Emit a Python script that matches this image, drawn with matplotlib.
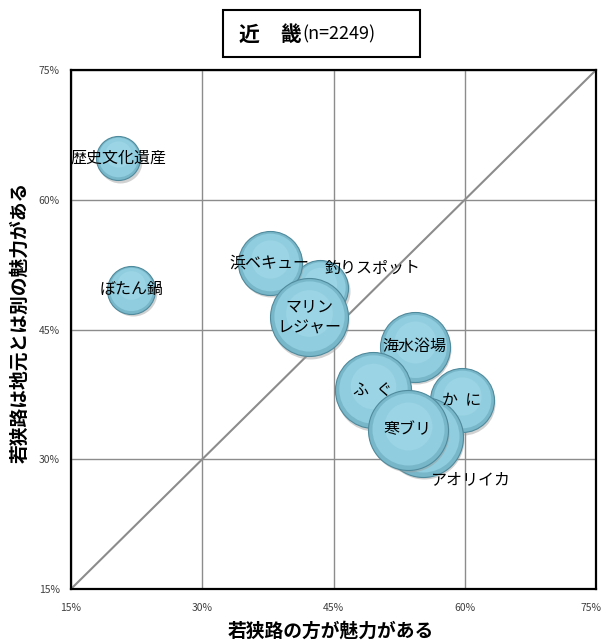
import matplotlib.pyplot as plt
from matplotlib.patches import Rectangle
from matplotlib.transforms import ScaledTranslation

plt.rcParams['font.family'] = ['Noto Sans CJK JP', 'DejaVu Sans']

# data, listed in drawing order
names = ['歴史文化遺産', 'ぼたん鍋', '海水浴場', 'か  に', '釣りスポット', '浜ベキュー',
         'マリン\nレジャー', 'ふ  ぐ', 'アオリイカ', '寒ブリ']
x_vals = [20.4, 21.9, 54.3, 59.7, 43.5, 37.7, 42.2, 49.5, 55.2, 53.5]   # 若狭路の方が魅力がある (%)
y_vals = [64.8, 49.6, 43.0, 36.8, 49.8, 52.7, 46.4, 38.0, 32.6, 33.4]   # 若狭路は地元とは別の魅力がある (%)
sizes = [22, 24, 35, 32, 28, 32, 39, 38, 40, 40]                        # bubble radius (px)
# label offsets (points) where the label is not centred on the bubble
label_off = {'釣りスポット': (38, 14), 'アオリイカ': (34, -31)}

ticks = [15, 30, 45, 60, 75]
tick_labels = ['15%', '30%', '45%', '60%', '75%']

fig = plt.figure(figsize=(6.04, 6.43), dpi=100)
ax = fig.add_axes([71 / 604, 1 - 589 / 643, 525 / 604, 519 / 643])
ax.set_xlim(15, 75)
ax.set_ylim(15, 75)

ax.set_xticks(ticks)
ax.set_yticks(ticks)
ax.set_xticklabels(tick_labels)
ax.set_yticklabels(tick_labels)
ax.tick_params(length=0, labelsize=7.5, colors='#404040')
ax.tick_params(axis='x', pad=10)
ax.tick_params(axis='y', pad=8)
# last x label sits at the figure edge, nudge it in a little
lbl = ax.get_xticklabels()[-1]
lbl.set_transform(lbl.get_transform() + ScaledTranslation(-0.05, 0, fig.dpi_scale_trans))
ax.grid(True, color='#8c8c8c', linewidth=1)
ax.set_axisbelow(True)
for s in ax.spines.values():
    s.set_linewidth(1.6)
    s.set_color('black')

# diagonal
ax.plot([15, 75], [15, 75], color='#8c8c8c', linewidth=1.5, zorder=1)

px = 72 / 100  # points per pixel
for i, name in enumerate(names):
    r = sizes[i] * px
    z = 3 + i
    # shadow
    ax.scatter(x_vals[i] + 0.15, y_vals[i] - 0.3, s=(2 * r) ** 2, color='#9a9a9a',
               alpha=0.45, linewidths=0, zorder=z)
    ax.scatter(x_vals[i], y_vals[i], s=(2 * r) ** 2, color='#78b7ca',
               edgecolors='#4f8a9c', linewidths=0.8, zorder=z)
    ax.scatter(x_vals[i], y_vals[i] + 0.12, s=(2 * r * 0.9) ** 2, color='#90cdde',
               linewidths=0, zorder=z)
    ax.scatter(x_vals[i], y_vals[i] + 0.5, s=(2 * r * 0.6) ** 2, color='#9ad4e5',
               linewidths=0, zorder=z)

for i, name in enumerate(names):
    off = label_off.get(name, (0, 0))
    ax.annotate(name, (x_vals[i], y_vals[i]), xytext=off, textcoords='offset points',
                ha='center', va='center', fontsize=11.5, color='black', zorder=30,
                linespacing=1.3)

# axis titles
fig.text(331 / 604, 1 - 631 / 643, '若狭路の方が魅力がある', fontsize=13.5,
         fontweight='bold', ha='center', va='center')
fig.text(20 / 604, 1 - 322 / 643, '若狭路は地元とは別の魅力がある', fontsize=13.5,
         fontweight='bold', ha='center', va='center', rotation=90)

# title box
fig.patches.append(Rectangle((223 / 604, 1 - 57 / 643), 197 / 604, 47 / 643,
                             transform=fig.transFigure, fill=False,
                             edgecolor='black', linewidth=1.5))
fig.text(270 / 604, 1 - 34 / 643, '近　畿', fontsize=15, fontweight='bold',
         ha='center', va='center')
fig.text(302 / 604, 1 - 34 / 643, '(n=2249)', fontsize=13,
         ha='left', va='center')

fig.savefig('out.png', dpi=100)
